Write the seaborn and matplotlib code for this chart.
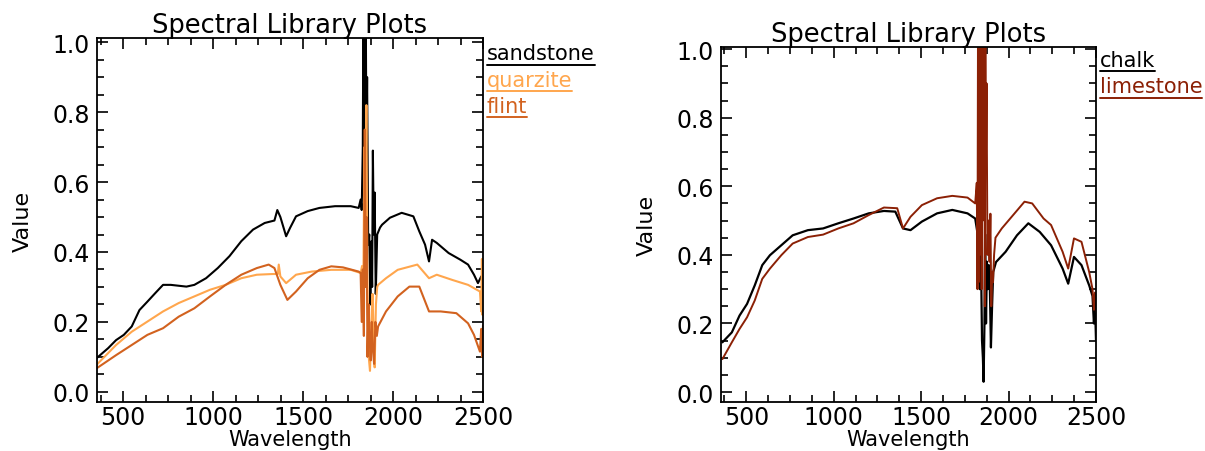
import numpy as np
import pandas as pd
import seaborn as sns
import matplotlib.pyplot as plt
from matplotlib.ticker import MultipleLocator

# ---- left panel: sandstone / quarzite / flint ----
sand_wl = [352, 417, 461, 504, 548, 591, 635, 678, 722, 765, 852, 896, 961, 1026, 1091,
           1157, 1222, 1287, 1341, 1357, 1374, 1406, 1428, 1461, 1526, 1591, 1678, 1765,
           1809, 1820, 1826, 1832, 1835, 1838, 1841, 1845, 1849, 1852, 1856, 1862, 1868,
           1874, 1879, 1884, 1888, 1893, 1898, 1904, 1912, 1928, 1939, 1983, 2048, 2113,
           2146, 2178, 2200, 2217, 2243, 2309, 2374, 2417, 2450, 2472, 2490, 2500]
sand_val = [0.096, 0.125, 0.148, 0.163, 0.187, 0.234, 0.258, 0.282, 0.306, 0.306, 0.301,
            0.306, 0.325, 0.354, 0.388,
            0.431, 0.464, 0.483, 0.490, 0.520, 0.500, 0.445, 0.469, 0.502, 0.517, 0.526,
            0.531, 0.531,
            0.526, 0.550, 0.520, 0.700, 1.050, 0.700, 1.050, 0.760, 1.050, 0.700, 0.900,
            0.420, 0.450,
            0.250, 0.430, 0.300, 0.690, 0.450, 0.570, 0.280, 0.450, 0.470, 0.478, 0.498,
            0.512, 0.502,
            0.459, 0.421, 0.373, 0.435, 0.426, 0.397, 0.378, 0.364, 0.335, 0.311, 0.330,
            0.330]

quar_wl = [352, 461, 548, 635, 722, 809, 896, 983, 1070, 1157, 1243, 1330, 1360, 1365,
           1374, 1406, 1461, 1548, 1657, 1765, 1820, 1828, 1835, 1841, 1846, 1852, 1858,
           1865, 1872, 1880, 1886, 1893, 1898, 1905, 1912, 1917, 1961, 2026, 2135, 2200,
           2243, 2330, 2417, 2483, 2490, 2494, 2497, 2500]
quar_val = [0.077, 0.134, 0.172, 0.201, 0.230, 0.254, 0.273, 0.292, 0.306, 0.325, 0.335,
            0.337, 0.337, 0.364, 0.330, 0.311, 0.335, 0.344, 0.349, 0.349, 0.340, 0.360,
            0.300, 0.700, 0.500, 0.820, 0.300, 0.100, 0.060, 0.200, 0.280, 0.150, 0.070,
            0.250, 0.300, 0.306, 0.325, 0.349, 0.364, 0.325, 0.335, 0.320, 0.306, 0.287,
            0.230, 0.380, 0.220, 0.300]

flint_wl = [352, 461, 548, 635, 722, 809, 896, 983, 1070, 1157, 1243, 1309, 1341, 1374,
            1413, 1461, 1526, 1591, 1657, 1722, 1809, 1820, 1826, 1832, 1838, 1843, 1848,
            1853, 1858, 1864, 1870, 1876, 1882, 1888, 1895, 1902, 1910, 1917, 1961, 2026,
            2091, 2146, 2200, 2265, 2352, 2417, 2450, 2483, 2490, 2495, 2500]
flint_val = [0.067, 0.105, 0.134, 0.163, 0.182, 0.215, 0.239, 0.273, 0.306, 0.335, 0.354,
             0.364, 0.354, 0.306, 0.263, 0.287, 0.325, 0.349, 0.359, 0.356, 0.344, 0.340,
             0.200, 0.350, 0.160, 0.750, 0.300, 0.500, 0.100, 0.250, 0.150, 0.090, 0.200,
             0.120, 0.080, 0.200, 0.160, 0.187, 0.230, 0.273, 0.301, 0.301, 0.230, 0.230,
             0.225, 0.196, 0.163, 0.115, 0.180, 0.100, 0.190]

# ---- right panel: chalk / limestone ----
chalk_wl = [363, 417, 461, 504, 548, 591, 635, 700, 765, 852, 939, 1026, 1113, 1200, 1287,
            1352, 1396, 1439, 1504, 1591, 1678, 1765, 1809, 1820, 1828, 1835, 1842, 1848,
            1853, 1857, 1862, 1866, 1871, 1876, 1881, 1887, 1893, 1899, 1905, 1912, 1928,
            1983, 2048, 2113, 2178, 2243, 2309, 2341, 2374, 2417, 2461, 2480, 2488, 2494,
            2500]
chalk_val = [0.145, 0.174, 0.223, 0.257, 0.311, 0.370, 0.399, 0.428, 0.457, 0.472, 0.477,
             0.492, 0.506, 0.521, 0.528, 0.526, 0.477, 0.472, 0.497, 0.521, 0.531, 0.521,
             0.506, 0.470, 0.420, 0.300, 0.400, 0.150, 0.100, 0.030, 0.200, 0.460, 0.200,
             0.380, 0.300, 0.370, 0.300, 0.130, 0.240, 0.350, 0.379, 0.409, 0.457, 0.492,
             0.467, 0.428, 0.360, 0.316, 0.394, 0.370, 0.311, 0.280, 0.200, 0.260, 0.150]

lime_wl = [363, 417, 461, 504, 548, 591, 635, 700, 765, 852, 939, 1026, 1113, 1200, 1287,
           1363, 1396, 1439, 1504, 1591, 1678, 1765, 1809, 1818, 1822, 1825, 1828, 1831,
           1834, 1837, 1840, 1843, 1846, 1849, 1852, 1855, 1858, 1861, 1864, 1867, 1870,
           1874, 1879, 1885, 1891, 1896, 1901, 1906, 1911, 1917, 1925, 1961, 2026, 2091,
           2135, 2200, 2243, 2309, 2341, 2374, 2417, 2461, 2480, 2488, 2494, 2500]
lime_val = [0.096, 0.145, 0.184, 0.218, 0.267, 0.330, 0.360, 0.399, 0.433, 0.452, 0.459,
            0.477, 0.492, 0.516, 0.538, 0.536, 0.477, 0.511, 0.545, 0.565, 0.572, 0.567,
            0.550, 0.610, 0.300, 1.050, 0.320, 1.050, 0.400, 1.050, 0.450, 1.050, 0.300,
            1.050, 0.500, 1.050, 0.600, 1.050, 0.250, 1.050, 0.650, 0.900, 0.400, 0.500,
            0.380, 0.520, 0.250, 0.350, 0.320, 0.400, 0.450, 0.477, 0.516, 0.555, 0.550,
            0.506, 0.487, 0.409, 0.360, 0.448, 0.438, 0.350, 0.300, 0.240, 0.290, 0.233]

left_names = ["sandstone", "quarzite", "flint"]
left_colors = ["#000000", "#ffa64d", "#d2621f"]
right_names = ["chalk", "limestone"]
right_colors = ["#000000", "#8b2005"]


def make_df(wl, val, name):
    return pd.DataFrame({"Wavelength": wl, "Value": val, "material": name})


left_df = pd.concat([make_df(sand_wl, sand_val, "sandstone"),
                     make_df(quar_wl, quar_val, "quarzite"),
                     make_df(flint_wl, flint_val, "flint")])
right_df = pd.concat([make_df(chalk_wl, chalk_val, "chalk"),
                      make_df(lime_wl, lime_val, "limestone")])

sns.set_style("ticks")
plt.rcParams['font.family'] = ['DejaVu Sans']
plt.rcParams['text.color'] = 'black'
plt.rcParams['axes.labelcolor'] = 'black'
plt.rcParams['xtick.color'] = 'black'
plt.rcParams['ytick.color'] = 'black'

fig = plt.figure(figsize=(12.05, 4.52), dpi=100)
ax1 = fig.add_axes([97 / 1205, 49 / 452, 386 / 1205, 364 / 452])
ax2 = fig.add_axes([721 / 1205, 49 / 452, 375 / 1205, 355 / 452])


def draw_panel(ax, df, names, colors, ymax, widths):
    for name, color, lw in zip(names, colors, widths):
        sns.lineplot(data=df[df["material"] == name], x="Wavelength", y="Value",
                     color=color, linewidth=lw, estimator=None, ax=ax, legend=False)
    ax.set_xlim(355, 2500)
    ax.set_ylim(-0.029, ymax)
    ax.xaxis.set_major_locator(MultipleLocator(500))
    ax.xaxis.set_minor_locator(MultipleLocator(125))
    ax.yaxis.set_major_locator(MultipleLocator(0.2))
    ax.yaxis.set_minor_locator(MultipleLocator(0.05))
    ax.yaxis.set_major_formatter(plt.FormatStrFormatter('%.1f'))
    ax.tick_params(which="both", direction="in", top=True, right=True,
                   labelsize=17, width=1.2, colors="black")
    ax.tick_params(which="major", length=8)
    ax.tick_params(axis="x", which="major", pad=2)
    ax.tick_params(axis="y", which="major", pad=5)
    ax.tick_params(which="minor", length=5)
    for s in ax.spines.values():
        s.set_linewidth(1.3)
        s.set_color("black")
    ax.set_xlabel("Wavelength", fontsize=15, labelpad=0)
    ax.set_ylabel("Value", fontsize=16, labelpad=14)
    ax.set_title("Spectral Library Plots", fontsize=18.5, pad=4, color="black")


draw_panel(ax1, left_df, left_names, left_colors, 1.012, [1.5, 1.5, 1.5])
draw_panel(ax2, right_df, right_names, right_colors, 1.006, [1.6, 1.4])


def underlined_labels(ax, names, colors, y0, step):
    fig.canvas.draw()
    renderer = fig.canvas.get_renderer()
    inv = ax.transAxes.inverted()
    for i, (name, color) in enumerate(zip(names, colors)):
        y = y0 - i * step
        t = ax.text(1.01, y, name, color=color, fontsize=15,
                    transform=ax.transAxes, ha="left", va="bottom")
        bb = t.get_window_extent(renderer)
        (x_a, y_a), (x_b, _) = inv.transform([[bb.x0, bb.y0], [bb.x1, bb.y0]])
        ax.plot([x_a, x_b], [y_a - 0.004, y_a - 0.004], color=color, linewidth=1.4,
                transform=ax.transAxes, clip_on=False)


underlined_labels(ax1, left_names, left_colors, 0.93, 0.072)
underlined_labels(ax2, right_names, right_colors, 0.935, 0.074)

fig.savefig("out.png", dpi=100)
